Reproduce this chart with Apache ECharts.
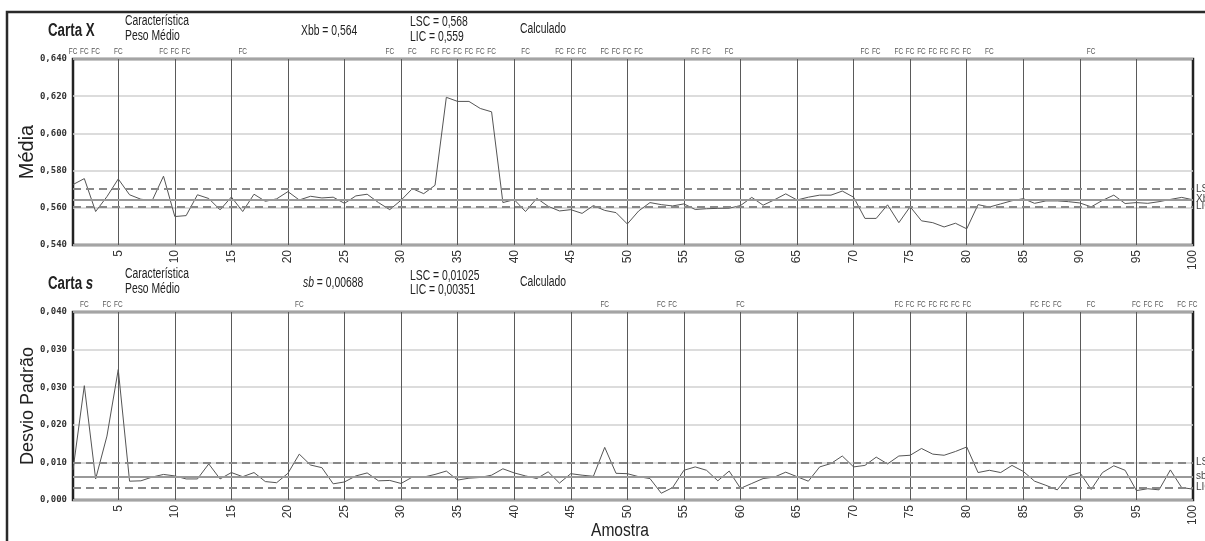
<html>
<head>
    <meta charset="utf-8">
    <title>Carta X / Carta s</title>
    <script src="https://cdn.jsdelivr.net/npm/echarts@6/dist/echarts.min.js"></script>
    <style>
        body { margin: 0; background: #fff; }
        #main { width: 1205px; height: 541px; }
    </style>
</head>
<body>
    <div id="main"></div>
    <script>
        // médias das amostras (carta X)
        var xbarValues = [
            0.5725, 0.5757, 0.5580, 0.5660, 0.5755, 0.5670, 0.5646, 0.5639, 0.5770, 0.5553,
            0.5558, 0.5670, 0.5650, 0.5589, 0.5658, 0.5580, 0.5673, 0.5635, 0.5648, 0.5687,
            0.5642, 0.5662, 0.5653, 0.5657, 0.5624, 0.5664, 0.5673, 0.5628, 0.5590, 0.5641,
            0.5703, 0.5676, 0.5721, 0.6194, 0.6172, 0.6172, 0.6134, 0.6116, 0.5628, 0.5644,
            0.5580, 0.5651, 0.5608, 0.5583, 0.5590, 0.5570, 0.5612, 0.5586, 0.5574, 0.5513,
            0.5583, 0.5628, 0.5617, 0.5610, 0.5621, 0.5591, 0.5595, 0.5597, 0.5598, 0.5612,
            0.5656, 0.5614, 0.5643, 0.5675, 0.5642, 0.5657, 0.5668, 0.5668, 0.5690, 0.5657,
            0.5543, 0.5543, 0.5616, 0.5520, 0.5606, 0.5530, 0.5520, 0.5497, 0.5517, 0.5487,
            0.5617, 0.5604, 0.5621, 0.5638, 0.5649, 0.5624, 0.5637, 0.5637, 0.5633, 0.5626,
            0.5605, 0.5640, 0.5668, 0.5623, 0.5628, 0.5624, 0.5633, 0.5645, 0.5656, 0.5643
        ];
        // desvios padrão das amostras (carta s)
        var sValues = [
            0.0080, 0.0304, 0.0056, 0.0170, 0.0347, 0.0050, 0.0051, 0.0061, 0.0068, 0.0064,
            0.0056, 0.0056, 0.0096, 0.0056, 0.0073, 0.0062, 0.0073, 0.0049, 0.0046, 0.0071,
            0.0122, 0.0093, 0.0086, 0.0043, 0.0048, 0.0064, 0.0072, 0.0051, 0.0052, 0.0044,
            0.0061, 0.0061, 0.0068, 0.0077, 0.0053, 0.0058, 0.0060, 0.0066, 0.0083, 0.0072,
            0.0064, 0.0057, 0.0075, 0.0045, 0.0070, 0.0066, 0.0063, 0.0140, 0.0071, 0.0070,
            0.0062, 0.0057, 0.0018, 0.0033, 0.0079, 0.0088, 0.0079, 0.0051, 0.0077, 0.0031,
            0.0044, 0.0057, 0.0061, 0.0074, 0.0062, 0.0050, 0.0088, 0.0097, 0.0117, 0.0088,
            0.0092, 0.0114, 0.0096, 0.0117, 0.0119, 0.0137, 0.0122, 0.0119, 0.0129, 0.0141,
            0.0073, 0.0079, 0.0073, 0.0092, 0.0076, 0.0050, 0.0039, 0.0027, 0.0064, 0.0073,
            0.0028, 0.0073, 0.0091, 0.0079, 0.0025, 0.0030, 0.0027, 0.0080, 0.0033, 0.0029
        ];
        // amostras marcadas "FC" (fora de controle)
        var xFC = [1, 2, 3, 5, 9, 10, 11, 16, 29, 31, 33, 34, 35, 36, 37, 38, 41, 44, 45, 46,
                   48, 49, 50, 51, 56, 57, 59, 71, 72, 74, 75, 76, 77, 78, 79, 80, 82, 91];
        var sFC = [2, 4, 5, 21, 48, 53, 54, 60, 74, 75, 76, 77, 78, 79, 80, 86, 87, 88, 91,
                   95, 96, 97, 99, 100];
        // linhas de controle desenhadas
        var xLimits = [0.5702, 0.5645, 0.5607];   // LSC, Xbb, LIC
        var sLimits = [0.0100, 0.0062, 0.0033];   // LSC, sb, LIC
        // rótulos do eixo da carta s como aparecem no gráfico
        var sTickLabels = ['0,000', '0,010', '0,020', '0,030', '0,030', '0,040'];

        var samples = [];
        for (var i = 1; i <= xbarValues.length; i++) {
            samples.push(String(i));
        }

        // fonte estreita: não há Arial Narrow, então comprime a Liberation Sans
        var sans = '"Liberation Sans", Arial, sans-serif';
        var every5 = function (idx) { return (idx + 1) % 5 === 0; };
        var every5inner = function (idx) { return (idx + 1) % 5 === 0 && idx < 99; };

        function fcData(list, top) {
            var out = [];
            for (var i = 0; i < list.length; i++) {
                out.push([list[i] - 1, top]);
            }
            return out;
        }

        // rótulo "FC" acima da moldura, na posição da amostra
        function renderFC(params, api) {
            var p = api.coord([api.value(0), api.value(1)]);
            return {
                type: 'text', x: p[0], y: p[1] - 3, scaleX: 0.72,
                style: {
                    x: 0, y: 0, text: 'FC', textAlign: 'center', textVerticalAlign: 'bottom',
                    fontFamily: sans, fontSize: 9, fill: '#555'
                }
            };
        }

        function limitLines(vals, names) {
            return {
                silent: true,
                symbol: 'none',
                precision: 5,
                label: {
                    position: 'end', distance: 3, formatter: '{b}',
                    fontFamily: sans, fontSize: 10, color: '#444'
                },
                data: [
                    { name: names[0], yAxis: vals[0], lineStyle: { color: '#888', width: 2, type: [8, 5] } },
                    { name: names[1], yAxis: vals[1], lineStyle: { color: '#999', width: 2, type: 'solid' } },
                    { name: names[2], yAxis: vals[2], lineStyle: { color: '#888', width: 2, type: [8, 5] } }
                ]
            };
        }

        function xAxisOf(gridIndex) {
            return {
                type: 'category',
                gridIndex: gridIndex,
                data: samples,
                boundaryGap: false,
                axisLine: { show: false },
                axisTick: { show: false },
                axisLabel: {
                    interval: every5, rotate: 90, margin: 5,
                    fontFamily: sans, fontSize: 12, color: '#333'
                },
                splitLine: { show: true, interval: every5inner, lineStyle: { color: '#5a5a5a', width: 1 } }
            };
        }

        function text(x, y, str, size, extra) {
            var st = { text: str, x: 0, y: 0, fontFamily: sans, fontSize: size, fill: '#222', verticalAlign: 'middle' };
            var el = { type: 'text', x: x, y: y, scaleX: 0.74, style: st };
            for (var k in extra) {
                if (k === 'scaleX') el.scaleX = extra[k];
                else st[k] = extra[k];
            }
            return el;
        }

        function richText(x, y, str, rich) {
            return {
                type: 'text', x: x, y: y, scaleX: 0.74,
                style: { x: 0, y: 0, verticalAlign: 'middle', text: str, rich: rich }
            };
        }

        var myChart = echarts.init(document.getElementById('main'));

        var option = {
            animation: false,
            backgroundColor: '#fff',
            grid: [
                { left: 73, right: 12, top: 59, height: 186, show: true, borderColor: '#222', borderWidth: 2.5 },
                { left: 73, right: 12, top: 312, height: 188, show: true, borderColor: '#222', borderWidth: 2.5 }
            ],
            xAxis: [xAxisOf(0), xAxisOf(1)],
            yAxis: [
                {
                    type: 'value', gridIndex: 0, min: 0.54, max: 0.64, interval: 0.02,
                    name: 'Média', nameLocation: 'middle', nameGap: 36, nameMoveOverlap: false,
                    nameTextStyle: { fontFamily: sans, fontSize: 20, color: '#222' },
                    axisLine: { show: false }, axisTick: { show: false },
                    axisLabel: {
                        margin: 6, fontFamily: 'DejaVu Sans Mono', fontWeight: 'bold', fontSize: 9, color: '#333',
                        formatter: function (v) { return v.toFixed(3).replace('.', ','); }
                    },
                    splitLine: { lineStyle: { color: '#d0d0d0', width: 1.5 } }
                },
                {
                    type: 'value', gridIndex: 1, min: 0, max: 0.05, interval: 0.01,
                    name: 'Desvio Padrão', nameLocation: 'middle', nameGap: 36, nameMoveOverlap: false,
                    nameTextStyle: { fontFamily: sans, fontSize: 18, color: '#222' },
                    axisLine: { show: false }, axisTick: { show: false },
                    axisLabel: {
                        margin: 6, fontFamily: 'DejaVu Sans Mono', fontWeight: 'bold', fontSize: 9, color: '#333',
                        formatter: function (v, i) { return sTickLabels[i]; }
                    },
                    splitLine: { lineStyle: { color: '#d0d0d0', width: 1.5 } }
                }
            ],
            graphic: [
                { type: 'rect', shape: { x: 7, y: 12, width: 1400, height: 700 }, style: { fill: 'none', stroke: '#2a2a2a', lineWidth: 2.5 } },
                text(48, 31, 'Carta X', 18, { fontWeight: 'bold' }),
                text(125, 21, 'Característica', 14),
                text(125, 36, 'Peso Médio', 14),
                text(301, 31, 'Xbb = 0,564', 14),
                text(410, 22, 'LSC = 0,568', 14),
                text(410, 37, 'LIC = 0,559', 14),
                text(520, 29, 'Calculado', 14),
                richText(48, 284, '{a|Carta }{b|s}', {
                    a: { fontFamily: sans, fontSize: 18, fontWeight: 'bold', fill: '#222' },
                    b: { fontFamily: sans, fontSize: 18, fontWeight: 'bold', fontStyle: 'italic', fill: '#222' }
                }),
                text(125, 274, 'Característica', 14),
                text(125, 289, 'Peso Médio', 14),
                richText(303, 283, '{i|sb}{a| = 0,00688}', {
                    i: { fontFamily: sans, fontSize: 14, fontStyle: 'italic', fill: '#222' },
                    a: { fontFamily: sans, fontSize: 14, fill: '#222' }
                }),
                text(410, 276, 'LSC = 0,01025', 14),
                text(410, 290, 'LIC = 0,00351', 14),
                text(520, 282, 'Calculado', 14),
                text(620, 531, 'Amostra', 19, { textAlign: 'center', scaleX: 0.82 })
            ],
            series: [
                {
                    type: 'line', xAxisIndex: 0, yAxisIndex: 0,
                    data: xbarValues, symbol: 'none',
                    lineStyle: { color: '#555', width: 1 },
                    markLine: limitLines(xLimits, ['LSC', 'Xbb', 'LIC']),
                    z: 3
                },
                {
                    type: 'line', xAxisIndex: 1, yAxisIndex: 1,
                    data: sValues, symbol: 'none',
                    lineStyle: { color: '#555', width: 1 },
                    markLine: limitLines(sLimits, ['LSC', 'sb', 'LIC']),
                    z: 3
                },
                {
                    type: 'custom', xAxisIndex: 0, yAxisIndex: 0,
                    data: fcData(xFC, 0.64), renderItem: renderFC, clip: false, silent: true
                },
                {
                    type: 'custom', xAxisIndex: 1, yAxisIndex: 1,
                    data: fcData(sFC, 0.05), renderItem: renderFC, clip: false, silent: true
                }
            ]
        };
        myChart.setOption(option);
    </script>
</body>
</html>
